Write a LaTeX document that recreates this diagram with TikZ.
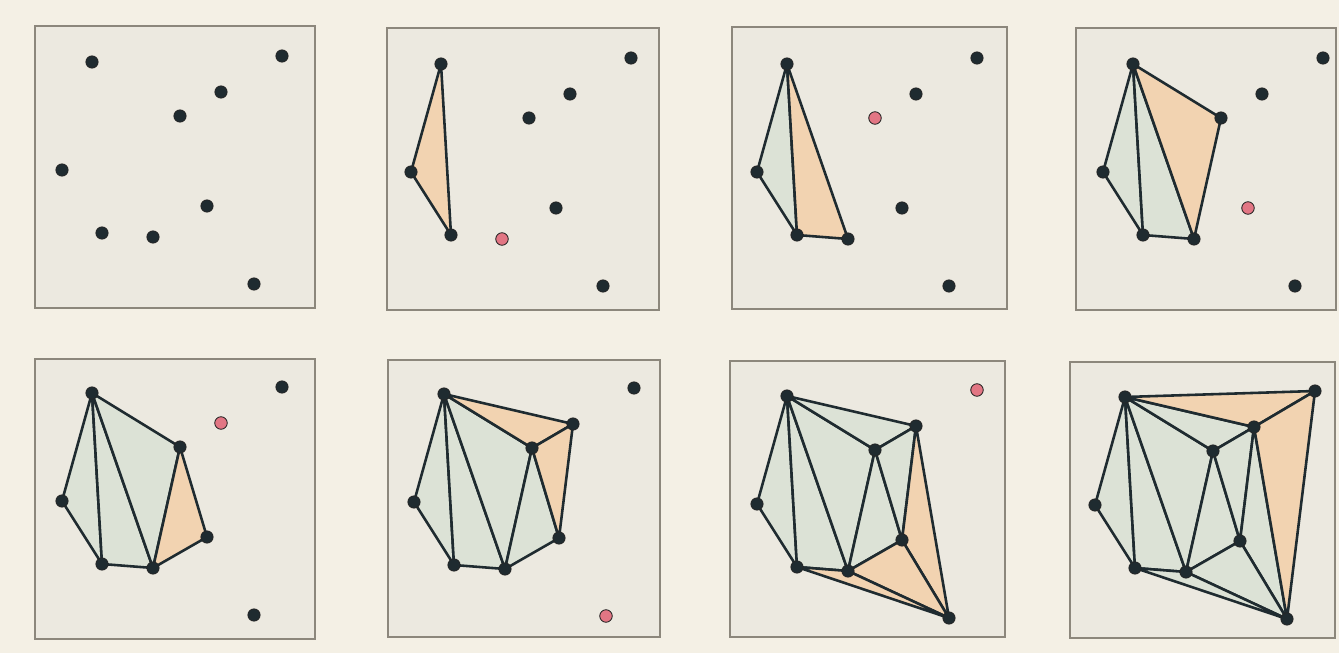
\documentclass[tikz,border=0pt]{standalone}
\usetikzlibrary{positioning}

\definecolor{paper}{HTML}{F4F0E5}
\definecolor{panelfill}{HTML}{ECE9E0}
\definecolor{boxgrey}{HTML}{8C877C}
\definecolor{sitedark}{HTML}{1F2B30}
\definecolor{sitenew}{HTML}{E27684}
\definecolor{trigreen}{HTML}{DCE2D6}
\definecolor{triorange}{HTML}{F2D3B1}

\tikzset{
  panel/.style={draw=boxgrey, fill=panelfill, line width=1.1pt},
  site/.style={circle, draw=black!85, fill=sitedark, minimum size=0.37cm, inner sep=0pt, line width=0.6pt},
  newsite/.style={site, fill=sitenew},
  oldtri/.style={fill=trigreen, draw=sitedark, line width=2.2pt, line join=round},
  newtri/.style={fill=triorange, draw=sitedark, line width=2.2pt, line join=round}
}

% the nine sites, placed from a panel's top left corner
\newcommand{\sites}[3]{%
  \coordinate (#1A) at (#2+57,#3+36);
  \coordinate (#1B) at (#2+247,#3+30);
  \coordinate (#1C) at (#2+186,#3+66);
  \coordinate (#1D) at (#2+145,#3+90);
  \coordinate (#1E) at (#2+27,#3+144);
  \coordinate (#1F) at (#2+172,#3+180);
  \coordinate (#1G) at (#2+67,#3+207);
  \coordinate (#1H) at (#2+118,#3+211);
  \coordinate (#1I) at (#2+219,#3+258);
}
\newcommand{\sitedots}[1]{%
  \foreach \s in {A,...,I}
    \node[site] (#1\s dot) at (#1\s) {};
}

\begin{document}
\begin{tikzpicture}[x=0.03cm, y=-0.03cm]
  \fill[paper] (0,0) rectangle (1339,653);

  % top row
  \draw[panel] (35,26) rectangle ++(280,282);
  \sites{a}{35}{26}
  \sitedots{a}

  \draw[panel] (387,28) rectangle ++(272,282);
  \sites{b}{384}{28}
  \filldraw[newtri] (bA) -- (bE) -- (bG) -- cycle;
  \sitedots{b}
  \node[newsite] (bnew) at (bH) {};

  \draw[panel] (732,27) rectangle ++(275,282);
  \sites{c}{730}{28}
  \filldraw[oldtri] (cA) -- (cE) -- (cG) -- cycle;
  \filldraw[newtri] (cA) -- (cG) -- (cH) -- cycle;
  \sitedots{c}
  \node[newsite] (cnew) at (cD) {};

  \draw[panel] (1076,28) rectangle ++(260,282);
  \sites{d}{1076}{28}
  \filldraw[oldtri] (dA) -- (dE) -- (dG) -- cycle;
  \filldraw[oldtri] (dA) -- (dG) -- (dH) -- cycle;
  \filldraw[newtri] (dA) -- (dH) -- (dD) -- cycle;
  \sitedots{d}
  \node[newsite] (dnew) at (dF) {};

  % bottom row
  \draw[panel] (35,359) rectangle ++(280,280);
  \sites{e}{35}{357}
  \filldraw[oldtri] (eA) -- (eE) -- (eG) -- cycle;
  \filldraw[oldtri] (eA) -- (eG) -- (eH) -- cycle;
  \filldraw[oldtri] (eA) -- (eH) -- (eD) -- cycle;
  \filldraw[newtri] (eD) -- (eH) -- (eF) -- cycle;
  \sitedots{e}
  \node[newsite] (enew) at (eC) {};

  \draw[panel] (388,360) rectangle ++(272,277);
  \sites{f}{387}{358}
  \filldraw[oldtri] (fA) -- (fE) -- (fG) -- cycle;
  \filldraw[oldtri] (fA) -- (fG) -- (fH) -- cycle;
  \filldraw[oldtri] (fA) -- (fH) -- (fD) -- cycle;
  \filldraw[oldtri] (fD) -- (fH) -- (fF) -- cycle;
  \filldraw[newtri] (fA) -- (fD) -- (fC) -- cycle;
  \filldraw[newtri] (fD) -- (fC) -- (fF) -- cycle;
  \sitedots{f}
  \node[newsite] (fnew) at (fI) {};

  \draw[panel] (730,361) rectangle ++(275,276);
  \sites{g}{730}{360}
  \filldraw[oldtri] (gA) -- (gE) -- (gG) -- cycle;
  \filldraw[oldtri] (gA) -- (gG) -- (gH) -- cycle;
  \filldraw[oldtri] (gA) -- (gH) -- (gD) -- cycle;
  \filldraw[oldtri] (gD) -- (gH) -- (gF) -- cycle;
  \filldraw[oldtri] (gA) -- (gD) -- (gC) -- cycle;
  \filldraw[oldtri] (gD) -- (gC) -- (gF) -- cycle;
  \filldraw[newtri] (gC) -- (gF) -- (gI) -- cycle;
  \filldraw[newtri] (gF) -- (gH) -- (gI) -- cycle;
  \filldraw[newtri] (gH) -- (gG) -- (gI) -- cycle;
  \sitedots{g}
  \node[newsite] (gnew) at (gB) {};

  \draw[panel] (1070,362) rectangle ++(265,276);
  \sites{h}{1068}{361}
  \filldraw[oldtri] (hA) -- (hE) -- (hG) -- cycle;
  \filldraw[oldtri] (hA) -- (hG) -- (hH) -- cycle;
  \filldraw[oldtri] (hA) -- (hH) -- (hD) -- cycle;
  \filldraw[oldtri] (hD) -- (hH) -- (hF) -- cycle;
  \filldraw[oldtri] (hA) -- (hD) -- (hC) -- cycle;
  \filldraw[oldtri] (hD) -- (hC) -- (hF) -- cycle;
  \filldraw[oldtri] (hC) -- (hF) -- (hI) -- cycle;
  \filldraw[oldtri] (hF) -- (hH) -- (hI) -- cycle;
  \filldraw[oldtri] (hH) -- (hG) -- (hI) -- cycle;
  \filldraw[newtri] (hA) -- (hB) -- (hC) -- cycle;
  \filldraw[newtri] (hB) -- (hC) -- (hI) -- cycle;
  \sitedots{h}
\end{tikzpicture}
\end{document}
